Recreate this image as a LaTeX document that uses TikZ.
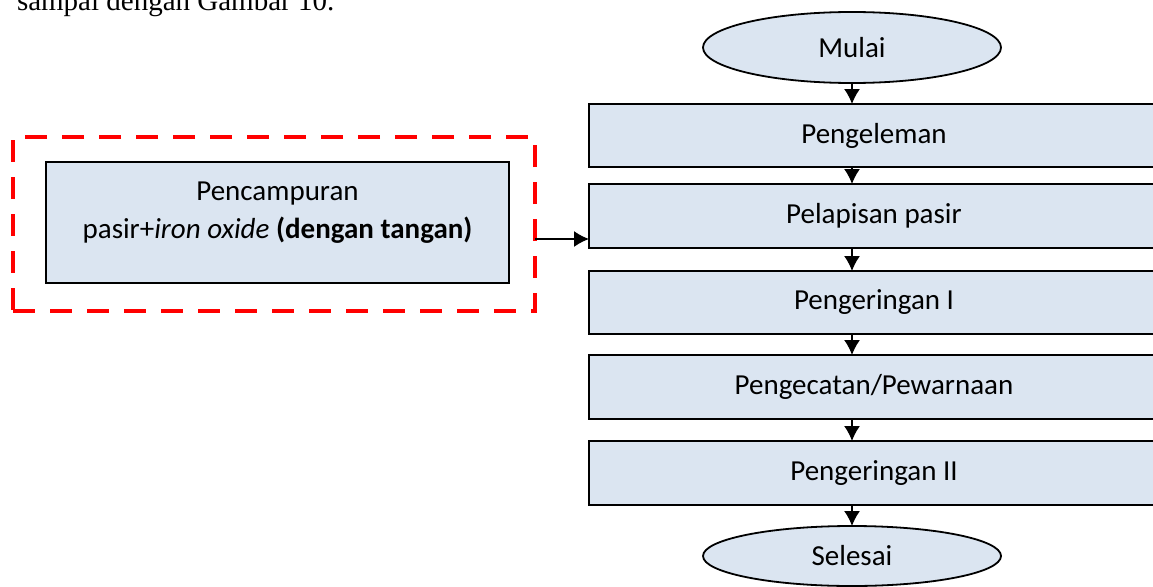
\documentclass[tikz,border=0pt]{standalone}
\usepackage{fontspec}
\setmainfont{Carlito}
\newfontfamily\timesfont{Liberation Serif}
\usetikzlibrary{shapes.geometric,arrows.meta}
\definecolor{boxfill}{HTML}{DBE5F1}
\begin{document}
\begin{tikzpicture}[x=1pt,y=-1pt,
  every node/.style={outer sep=0pt},
  procbox/.style={draw=black, line width=1.6pt, fill=boxfill, minimum width=570pt, inner sep=0pt,
    font=\fontsize{29}{35}\selectfont},
  termin/.style={ellipse, draw=black, line width=1.8pt, fill=boxfill, minimum width=298pt, minimum height=71pt,
    inner sep=0pt, font=\fontsize{29}{35}\selectfont},
  groupbox/.style={draw=red, line width=4.5pt, dash pattern=on 22pt off 15pt, minimum width=522pt, minimum height=174pt},
  arr/.style={line width=1.4pt, -{Latex[length=15pt,width=16pt]}}
]
\useasboundingbox (0,0) rectangle (1153,586);
\clip (0,0) rectangle (1153,586);
\node[anchor=base west, inner sep=0pt, font=\timesfont\fontsize{29}{35}\selectfont] (cap) at (17,11) {sampai dengan Gambar 10.};

\node[termin] (mulai) at (852,47.5) {Mulai};
\node[procbox, minimum height=63pt] (b1) at (874,135.5) {Pengeleman};
\node[procbox, minimum height=64pt] (b2) at (874,216) {Pelapisan pasir};
\node[procbox, minimum height=63pt] (b3) at (874,302.5) {Pengeringan I};
\node[procbox, minimum height=64pt] (b4) at (874,387) {Pengecatan/Pewarnaan};
\node[procbox, minimum height=64pt] (b5) at (874,473) {Pengeringan II};
\node[termin, minimum height=60pt] (selesai) at (852,556) {Selesai};

\node[groupbox] (group) at (274,224) {};
\node[draw=black, line width=1.6pt, fill=boxfill, minimum width=463pt, minimum height=121pt] (mix) at (277.5,222.5) {};
\node[align=center, inner sep=0pt, font=\fontsize{29}{38}\selectfont] (mixtext) at (277.5,213)
  {Pencampuran\\pasir+\textit{iron oxide} \textbf{(dengan tangan)}};

\draw[arr] (mulai.south) -- (mulai.south |- b1.north);
\draw[arr] (b1.south -| mulai) -- (b2.north -| mulai);
\draw[arr] (b2.south -| mulai) -- (b3.north -| mulai);
\draw[arr] (b3.south -| mulai) -- (b4.north -| mulai);
\draw[arr] (b4.south -| mulai) -- (b5.north -| mulai);
\draw[arr] (b5.south -| mulai) -- (selesai.north);
\draw[arr] (group.east |- 0,239) -- (b2.west |- 0,239);
\end{tikzpicture}
\end{document}
